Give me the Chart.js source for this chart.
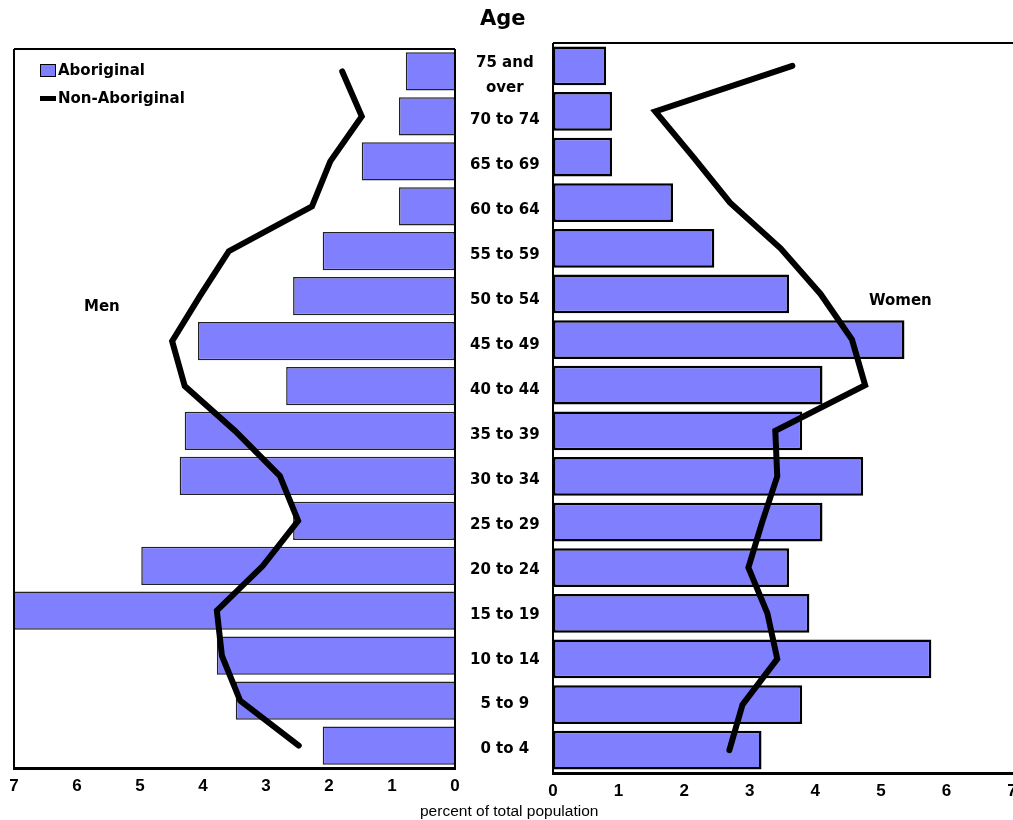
<!DOCTYPE html>
<html>
<head>
<meta charset="utf-8">
<script src="https://cdn.jsdelivr.net/npm/chart.js@4.4.1/dist/chart.umd.min.js"></script>
<style>
  body { margin: 0; background: #fff; width: 1013px; height: 820px; overflow: hidden; position: relative; font-family: "DejaVu Sans", sans-serif; }
  canvas { position: absolute; }
  #men { left: 0; top: 0; }
  #women { left: 455px; top: 0; }
  .txt { position: absolute; font-weight: bold; color: #000; white-space: nowrap; }
  #age { left: 480px; top: 6px; font-size: 21px; }
  #lblMen { left: 84px; top: 297px; font-size: 15px; }
  #lblWomen { left: 869px; top: 291px; font-size: 15px; }
  #xtitle { left: 420px; top: 802px; font-size: 15.5px; font-weight: normal; font-family: "Liberation Sans Narrow", "Liberation Sans", sans-serif; }
  .legend { position: absolute; left: 40px; font-size: 15px; font-weight: bold; }
  .legend .sw { display: inline-block; vertical-align: middle; margin-right: 2px; }
  #lg1 { top: 61px; }
  #lg2 { top: 89px; }
  #lg1 .sw { width: 14px; height: 11px; background: #8080ff; border: 1px solid #000; }
  #lg2 .sw { width: 16px; height: 5px; background: #000; }
</style>
</head>
<body>
<canvas id="women" width="565" height="820"></canvas>
<canvas id="men" width="553" height="800"></canvas>
<div class="txt" id="age">Age</div>
<div class="txt" id="lblMen">Men</div>
<div class="txt" id="lblWomen">Women</div>
<div class="txt" id="xtitle">percent of total population</div>
<div class="legend" id="lg1"><span class="sw"></span>Aboriginal</div>
<div class="legend" id="lg2"><span class="sw"></span>Non-Aboriginal</div>
<script>
// Groupes d'âge, du plus jeune au plus âgé
const ages = ['0 to 4', '5 to 9', '10 to 14', '15 to 19', '20 to 24', '25 to 29', '30 to 34',
    '35 to 39', '40 to 44', '45 to 49', '50 to 54', '55 to 59', '60 to 64', '65 to 69',
    '70 to 74', ['75 and', 'over']];
const xTicks = [0, 1, 2, 3, 4, 5, 6, 7];

// Pourcentages
const menAboriginal = [2.1, 3.48, 3.78, 7.0, 4.98, 2.57, 4.37, 4.29, 2.68, 4.08, 2.57, 2.1, 0.89, 1.48, 0.89, 0.78];
const menNonAboriginal = [2.48, 3.41, 3.7, 3.78, 3.05, 2.49, 2.78, 3.49, 4.29, 4.49, 4.05, 3.59, 2.27, 1.98, 1.48, 1.79];
const womenAboriginal = [3.18, 3.8, 5.77, 3.91, 3.6, 4.11, 4.73, 3.8, 4.11, 5.36, 3.6, 2.46, 1.83, 0.9, 0.9, 0.81];
const womenNonAboriginal = [2.69, 2.89, 3.42, 3.27, 2.98, 3.19, 3.42, 3.39, 4.76, 4.56, 4.08, 3.47, 2.7, 2.14, 1.56, 3.65];

const tickFont = { family: '"Liberation Sans Narrow", "Liberation Sans", sans-serif', size: 17, weight: 'bold' };

// Cadre autour de la zone du graphique
const framePlugin = {
    id: 'frame',
    afterDatasetsDraw(chart, args, opts) {
        const a = chart.chartArea;
        const ctx = chart.ctx;
        ctx.save();
        ctx.strokeStyle = '#000';
        ctx.lineWidth = 2;
        ctx.beginPath();
        if (opts.top) { ctx.moveTo(a.left, a.top); ctx.lineTo(a.right + (opts.right ? 0 : 10), a.top); }
        if (opts.left) { ctx.moveTo(a.left, a.top); ctx.lineTo(a.left, a.bottom); }
        if (opts.right) { ctx.moveTo(a.right, a.top); ctx.lineTo(a.right, a.bottom); }
        ctx.stroke();
        ctx.restore();
    }
};

function makeChart(id, barData, lineData, side) {
    const isMen = side === 'men';
    return new Chart(document.getElementById(id), {
        type: 'bar',
        data: {
            labels: ages,
            datasets: [{
                type: 'line',
                label: 'Non-Aboriginal',
                data: lineData,
                indexAxis: 'y',
                borderColor: '#000',
                borderWidth: 6,
                pointRadius: 0,
                tension: 0,
                borderCapStyle: 'round',
                order: 0
            }, {
                label: 'Aboriginal',
                data: barData,
                indexAxis: 'y',
                backgroundColor: '#8080ff',
                borderColor: isMen ? '#222' : '#000',
                borderWidth: isMen ? 1.5 : 2.5,
                borderSkipped: false,
                barPercentage: 0.85,
                categoryPercentage: 1,
                order: 1
            }]
        },
        options: {
            indexAxis: 'y',
            responsive: false,
            animation: false,
            layout: {
                padding: isMen ? { top: 49, left: 14, right: 0, bottom: 0 } : { top: 43, left: 98, right: 8, bottom: 0 }
            },
            plugins: {
                legend: { display: false },
                tooltip: { enabled: false },
                frame: isMen ? { top: true, left: true, right: true } : { top: true, left: true, right: false }
            },
            scales: {
                x: {
                    min: 0,
                    max: 7,
                    reverse: isMen,
                    afterBuildTicks: s => { s.ticks = xTicks.map(v => ({ value: v })); },
                    afterFit: s => { s.height = isMen ? 32 : 47; },
                    grid: { display: false },
                    border: { display: true, color: '#000', width: 3 },
                    ticks: { color: '#000', font: tickFont, padding: 0 }
                },
                y: {
                    reverse: true,
                    display: isMen,
                    position: 'right',
                    afterFit: s => { s.width = isMen ? 98 : 0; },
                    grid: { display: false },
                    border: { display: false },
                    ticks: {
                        color: '#000',
                        autoSkip: false,
                        crossAlign: 'center',
                        padding: 7,
                        labelOffset: 4,
                        font: { family: '"DejaVu Sans", sans-serif', size: 15, weight: 'bold', lineHeight: 1.65 }
                    }
                }
            }
        },
        plugins: [framePlugin]
    });
}

makeChart('men', menAboriginal, menNonAboriginal, 'men');
makeChart('women', womenAboriginal, womenNonAboriginal, 'women');
</script>
</body>
</html>
